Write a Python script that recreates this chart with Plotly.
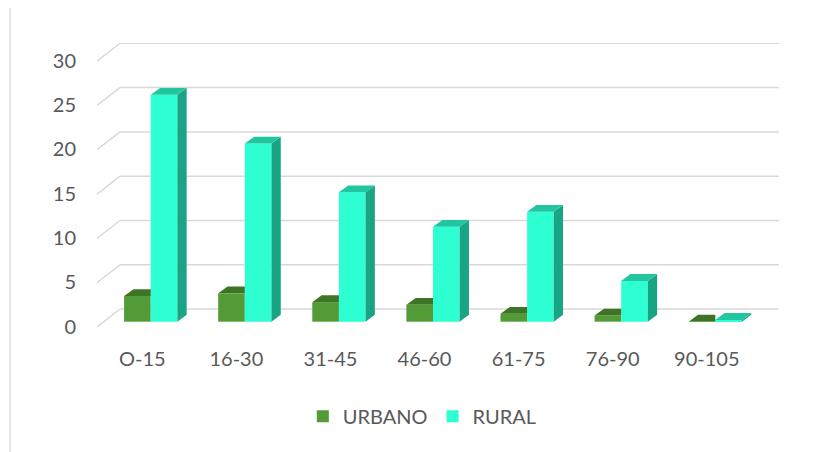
import plotly.graph_objects as go

categories = ["O-15", "16-30", "31-45", "46-60", "61-75", "76-90", "90-105"]
urbano = [2.9, 3.2, 2.2, 1.9, 0.9, 0.7, 0.0]
rural = [25.6, 20.1, 14.6, 10.7, 12.4, 4.6, 0.2]
y_ticks = [0, 5, 10, 15, 20, 25, 30]

# styling / geometry
C_URB = "#529B37"; C_URB_TOP = "#3D7426"
C_RUR = "#2DFFD3"; C_RUR_TOP = "#21C6A1"; C_RUR_SIDE = "#1AA486"
GRID = "#D9D9D9"; TXT = "#595959"
BARGAP = 0.434
BW = (1 - BARGAP) / 2          # width of one bar in category units
DX, DY = 0.099, 0.77           # bar depth offset (x units, y units)
WX0, WX1 = -0.571, 6.677       # x range
BACK_DX, BACK_DY = 0.244, 1.42 # back wall offset relative to bar plane
FRONT_DY = -0.6                # front plane offset relative to bar plane

xs = list(range(len(categories)))
fig = go.Figure()

# front faces
fig.add_trace(go.Bar(x=xs, y=urbano, name="URBANO", marker=dict(color=C_URB, line=dict(width=0))))
fig.add_trace(go.Bar(x=xs, y=rural, name="RURAL", marker=dict(color=C_RUR, line=dict(width=0))))

# 3D faces (derived from values)
for i, (u, r) in enumerate(zip(urbano, rural)):
    ul, ur = i - BW, i
    rl, rr = i, i + BW
    # urbano top (clipped by rural front)
    fig.add_trace(go.Scatter(x=[ul, ul + DX, ur, ur, ul], y=[u, u + DY, u + DY, u, u],
                             fill="toself", fillcolor=C_URB_TOP, mode="none",
                             showlegend=False, hoverinfo="skip"))
    # rural side
    fig.add_trace(go.Scatter(x=[rr, rr + DX, rr + DX, rr, rr], y=[0, DY, r + DY, r, 0],
                             fill="toself", fillcolor=C_RUR_SIDE, mode="none",
                             showlegend=False, hoverinfo="skip"))
    # rural top
    fig.add_trace(go.Scatter(x=[rl, rl + DX, rr + DX, rr, rl], y=[r, r + DY, r + DY, r, r],
                             fill="toself", fillcolor=C_RUR_TOP, mode="none",
                             showlegend=False, hoverinfo="skip"))

shapes = []
for v in y_ticks:
    shapes.append(dict(type="line", xref="x", yref="y", layer="below",
                       x0=WX0 + BACK_DX, x1=WX1, y0=v + BACK_DY, y1=v + BACK_DY,
                       line=dict(color=GRID, width=1.5)))
    shapes.append(dict(type="line", xref="x", yref="y", layer="below",
                       x0=WX0, x1=WX0 + BACK_DX, y0=v + FRONT_DY, y1=v + BACK_DY,
                       line=dict(color=GRID, width=1.5)))
# chart border
shapes.append(dict(type="rect", xref="paper", yref="paper", x0=-0.1276, x1=1.08, y0=-0.48, y1=1.128,
                   line=dict(color=GRID, width=1.2), fillcolor="rgba(0,0,0,0)", layer="below"))

fig.update_layout(
    width=814, height=444,
    margin=dict(l=89, r=43, t=35.4, b=125),
    paper_bgcolor="white", plot_bgcolor="white",
    barmode="group", bargap=BARGAP, bargroupgap=0,
    font=dict(family="Lato", size=20, color=TXT),
    shapes=shapes,
    showlegend=True,
    legend=dict(orientation="h", x=0.477, xanchor="center", y=-0.314, yanchor="middle",
                font=dict(size=20, color=TXT), traceorder="normal"),
    xaxis=dict(range=[WX0, WX1], tickvals=[x - 0.09 for x in xs], ticktext=categories,
               showgrid=False, zeroline=False, showline=False, ticks="",
               ticklabelstandoff=18, fixedrange=True),
    yaxis=dict(range=[FRONT_DY, 30 + BACK_DY + 0.03], tickvals=y_ticks,
               showgrid=False, zeroline=False, showline=False, ticks="",
               ticklabelshift=5, ticklabelstandoff=20, fixedrange=True),
)

fig.write_html("out.html")
